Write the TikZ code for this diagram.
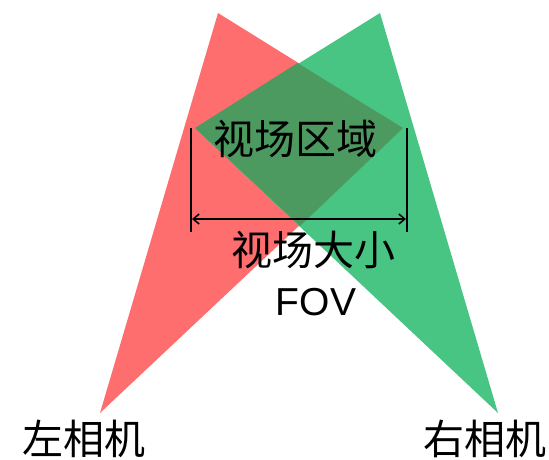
\documentclass[tikz,border=0pt]{standalone}
\usepackage{fontspec}
\setmainfont{Noto Sans CJK SC}
\newfontfamily\latinsans{Liberation Sans}
\usetikzlibrary{arrows.meta}
\definecolor{camred}{RGB}{255,110,110}
\definecolor{camgreen}{RGB}{72,196,131}
\definecolor{overlapgreen}{RGB}{76,154,96}
\tikzset{
  lbl/.style={inner sep=0pt, font=\fontsize{41}{46}\selectfont, text=black},
  dimline/.style={black, line width=2pt},
}
\begin{document}
\begin{tikzpicture}[x=1pt,y=-1pt]
\useasboundingbox (0,0) rectangle (549,459);
% vertices
\coordinate (rtop) at (218,13);
\coordinate (rbot) at (100,413);
\coordinate (rright) at (403,128);
\coordinate (gtop) at (380,13);
\coordinate (gbot) at (498,413);
\coordinate (gleft) at (195,128);
\coordinate (dtop) at (297.5,63);
\coordinate (dbot) at (300,226);
% triangles
\fill[camred] (rtop) -- (rright) -- (rbot) -- cycle;
\fill[camgreen] (gtop) -- (gbot) -- (gleft) -- cycle;
\fill[overlapgreen] (gleft) -- (dtop) -- (rright) -- (dbot) -- cycle;
% dimension lines
\coordinate (l1) at (191,128);
\coordinate (l2) at (191,232);
\coordinate (r1) at (407,128);
\coordinate (r2) at (407,232);
\coordinate (al) at (192,219);
\coordinate (ar) at (406,219);
\draw[dimline] (l1) -- (l2);
\draw[dimline] (r1) -- (r2);
\draw[black, line width=1.5pt, {Straight Barb[length=6pt,width=10pt]}-{Straight Barb[length=6pt,width=10pt]}] (al) -- (ar);
% labels
\node[lbl] (region) at (295,139) {视场区域};
\node[lbl] (size) at (313,250) {视场大小};
\node[lbl, anchor=base, font=\latinsans\fontsize{39}{44}\selectfont] (fov) at (316,315) {FOV};
\node[lbl] (leftcam) at (84,439) {左相机};
\node[lbl] (rightcam) at (485,439) {右相机};
\end{tikzpicture}
\end{document}
